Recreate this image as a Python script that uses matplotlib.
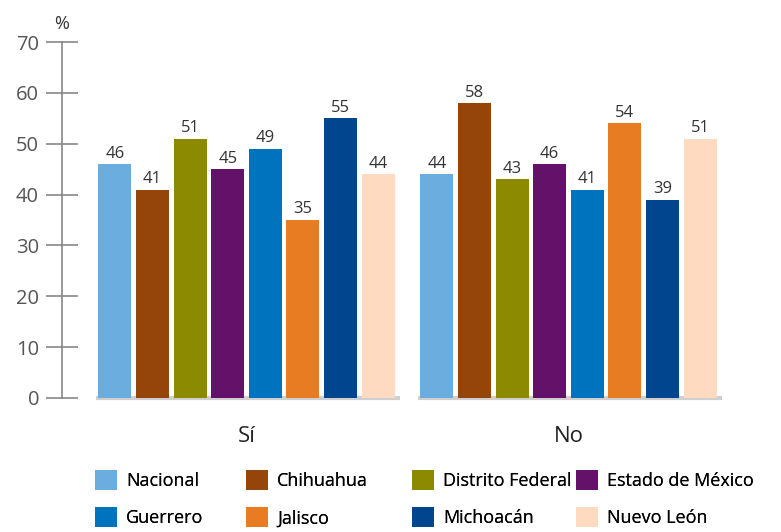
import numpy as np
import matplotlib.pyplot as plt
from matplotlib.patches import Patch

groups = ['Sí', 'No']
states = ['Nacional', 'Chihuahua', 'Distrito Federal', 'Estado de México',
          'Guerrero', 'Jalisco', 'Michoacán', 'Nuevo León']
colors = ['#6cade0', '#96450a', '#8b8a00', '#631169',
          '#0073bf', '#e87c22', '#00468e', '#fddac0']
si_vals = [46, 41, 51, 45, 49, 35, 55, 44]
no_vals = [44, 58, 43, 46, 41, 54, 39, 51]
yticks = [0, 10, 20, 30, 40, 50, 60, 70]

plt.rcParams['font.family'] = ['Open Sans', 'DejaVu Sans']

fig = plt.figure(figsize=(7.81, 5.32), dpi=100)
ax = fig.add_axes([0.0794, 0.2519, 0.87, 0.669])

pitch = 0.1168
width = 0.1025
centers = np.arange(len(groups))
offsets = (np.arange(len(states)) - 3.5) * pitch
data = np.array([si_vals, no_vals])

for i, st in enumerate(states):
    xs = centers + offsets[i]
    ax.bar(xs, data[:, i], width=width, color=colors[i], zorder=2)
    for x, v in zip(xs, data[:, i]):
        ax.text(x, v + 0.5, str(v), ha='center', va='bottom',
                fontsize=12, color='#333333')

# light grey base line under each group
for c in centers:
    ax.plot([c - 4 * pitch, c + 4 * pitch + 0.01], [0, 0], color='#cfcfcf',
            lw=3, solid_capstyle='butt', zorder=1, clip_on=False)

ax.set_xlim(-0.573, -0.573 + 0.87 * 781 / 322)
ax.set_ylim(0, 70)
ax.set_yticks(yticks)
ax.set_yticklabels([str(t) for t in yticks], fontsize=14.5, color='#555555')
ax.tick_params(axis='y', direction='inout', length=23, width=1.2,
               color='#888888', pad=5)
ax.set_xticks(centers)
ax.set_xticklabels(groups, fontsize=16, color='#222222')
ax.tick_params(axis='x', length=0, pad=20)
for s in ['top', 'right', 'bottom']:
    ax.spines[s].set_visible(False)
ax.spines['left'].set_color('#888888')
ax.spines['left'].set_linewidth(1.2)

fig.text(0.0794, 0.955, '%', ha='center', va='center', fontsize=13, color='#333333')

# legend: one small legend per column, two rows each
col_x = [97, 248, 414, 578]
for j in range(4):
    handles = [Patch(facecolor=colors[j], label=states[j]),
               Patch(facecolor=colors[j + 4], label=states[j + 4])]
    leg = fig.legend(handles=handles, loc='upper left',
                     bbox_to_anchor=((col_x[j] - 16) / 781, 1 - 456 / 532),
                     frameon=False, fontsize=13, handlelength=1.2,
                     handleheight=1.3, handletextpad=0.5, labelspacing=0.95,
                     borderpad=0.3)
    fig.add_artist(leg)

fig.savefig('out.png', dpi=100)
